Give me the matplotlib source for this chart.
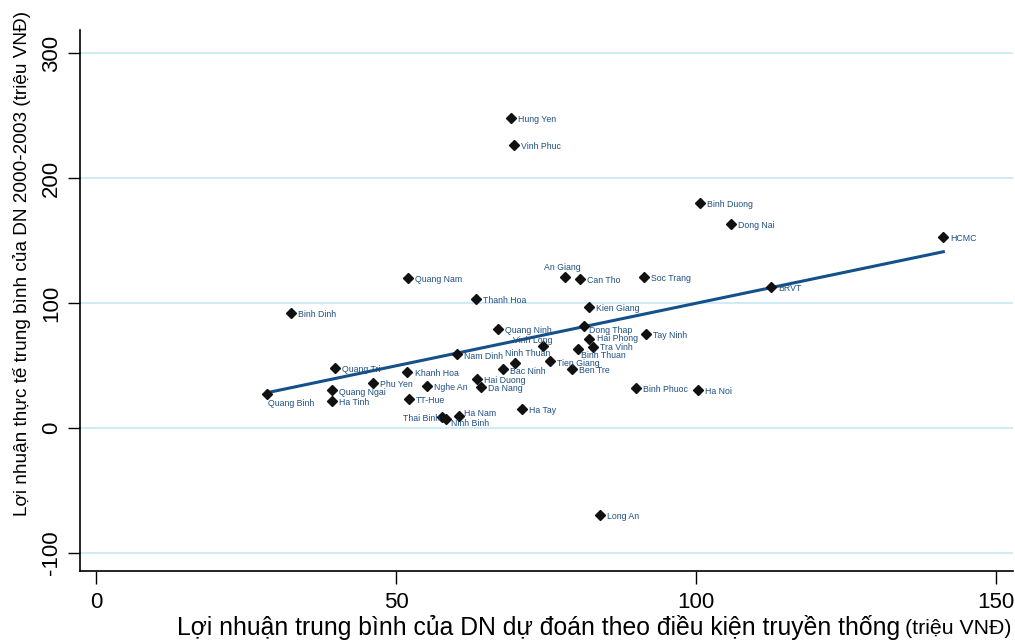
import numpy as np
import matplotlib.pyplot as plt

plt.rcParams['font.family'] = ['Liberation Sans', 'DejaVu Sans']

# provinces: predicted (x) vs actual (y) average profit, million VND
provinces = ["Hung Yen", "Vinh Phuc", "Binh Duong", "Dong Nai", "HCMC", "Soc Trang",
             "An Giang", "Can Tho", "Quang Nam", "BRVT", "Thanh Hoa", "Kien Giang",
             "Binh Dinh", "Quang Ninh", "Dong Thap", "Tay Ninh", "Hai Phong", "Vinh Long",
             "Tra Vinh", "Binh Thuan", "Nam Dinh", "Tien Giang", "Ninh Thuan", "Bac Ninh",
             "Ben Tre", "Quang Tri", "Khanh Hoa", "Hai Duong", "Phu Yen", "Da Nang",
             "Nghe An", "Binh Phuoc", "Ha Noi", "Quang Ngai", "Quang Binh", "Ha Tinh",
             "TT-Hue", "Ha Tay", "Thai Binh", "Ninh Binh", "Ha Nam", "Long An"]
predicted = [69.2, 69.7, 100.7, 105.8, 141.2, 91.3,
             78.2, 80.7, 52.0, 112.5, 63.3, 82.2,
             32.5, 67.0, 81.3, 91.7, 82.2, 74.5,
             82.8, 80.3, 60.2, 75.7, 69.8, 67.8,
             79.3, 39.8, 51.8, 63.5, 46.2, 64.2,
             55.2, 90.0, 100.3, 39.3, 28.5, 39.3,
             52.2, 71.0, 57.7, 58.3, 60.5, 84.0]
actual = [248.0, 226.4, 180.0, 163.2, 152.8, 120.8,
          120.8, 119.2, 120.0, 112.8, 103.2, 96.8,
          92.0, 79.2, 81.6, 75.2, 71.2, 65.6,
          64.8, 63.2, 59.2, 53.6, 52.0, 47.2,
          47.2, 48.0, 44.8, 39.2, 36.0, 32.8,
          33.6, 32.0, 30.4, 30.4, 27.2, 21.6,
          23.2, 15.2, 8.8, 7.2, 9.6, -69.6]

x_ticks = [0, 50, 100, 150]
y_ticks = [-100, 0, 100, 200, 300]

# label placement (offset in points, horizontal alignment)
label_pos = {
    "An Giang": (-2, 7, 'center'),
    "Vinh Long": (7, 4, 'right'),
    "Ninh Thuan": (9, 7, 'center'),
    "Binh Thuan": (2, -4.5, 'left'),
    "Tra Vinh": (5, 0, 'left'),
    "Tien Giang": (4.5, -1.5, 'left'),
    "Quang Binh": (0.5, -6.5, 'left'),
    "Thai Binh": (-1.5, -1, 'right'),
    "Ninh Binh": (3.5, -3, 'left'),
    "Ha Nam": (3.5, 2, 'left'),
    "Dong Thap": (3.5, -3.5, 'left'),
    "Hai Phong": (5.5, 0.5, 'left'),
    "Quang Ngai": (5, -2, 'left'),
    "Nam Dinh": (4.5, -2, 'left'),
    "Bac Ninh": (5, -2, 'left'),
    "Khanh Hoa": (6, -1, 'left'),
}

navy = '#1f4f82'

fig = plt.figure(figsize=(10.15, 6.42), dpi=100)
ax = fig.add_axes([0.0788, 0.1106, 0.9192, 0.8424])

for y in y_ticks:
    ax.axhline(y, color='#cde9f4', linewidth=1.3, zorder=0)

ax.plot(predicted, actual, linestyle='none', marker='D', markersize=5.6,
        color='#111111', zorder=3)

for name, x, y in zip(provinces, predicted, actual):
    dx, dy, ha = label_pos.get(name, (5, -1, 'left'))
    ax.annotate(name, (x, y), xytext=(dx, dy), textcoords='offset points',
                ha=ha, va='center', fontsize=6.3, color=navy, zorder=4)

# linear fit
slope, intercept = np.polyfit(predicted, actual, 1)
xs = np.array([min(predicted), max(predicted)])
ax.plot(xs, slope * xs + intercept, color='#15508a', linewidth=2.2, zorder=2)

ax.set_xlim(-2.67, 152.8)
ax.set_ylim(-114.4, 318.4)
ax.set_xticks(x_ticks)
ax.set_yticks(y_ticks)
ax.set_xticklabels([str(t) for t in x_ticks], fontsize=16)
ax.set_yticklabels([str(t) for t in y_ticks], fontsize=16, rotation=90, va='center')
ax.tick_params(axis='both', length=9, width=1, color='black')
ax.tick_params(axis='x', pad=6)
ax.tick_params(axis='y', pad=4)

for s in ['top', 'right']:
    ax.spines[s].set_visible(False)
for s in ['left', 'bottom']:
    ax.spines[s].set_linewidth(1.2)

fig.text(0.022, 1 - 263 / 642, "Lợi nhuận thực tế trung bình của DN 2000-2003 (triệu VNĐ)",
         rotation=90, ha='center', va='center', fontsize=13.7)
fig.text(900 / 1015, 1 - 628 / 642, "Lợi nhuận trung bình của DN dự đoán theo điều kiện truyền thống",
         ha='right', va='center', fontsize=17.8)
fig.text(905 / 1015, 1 - 629 / 642, "(triệu VNĐ)", ha='left', va='center', fontsize=15.3)

fig.savefig("out.png", dpi=100)
